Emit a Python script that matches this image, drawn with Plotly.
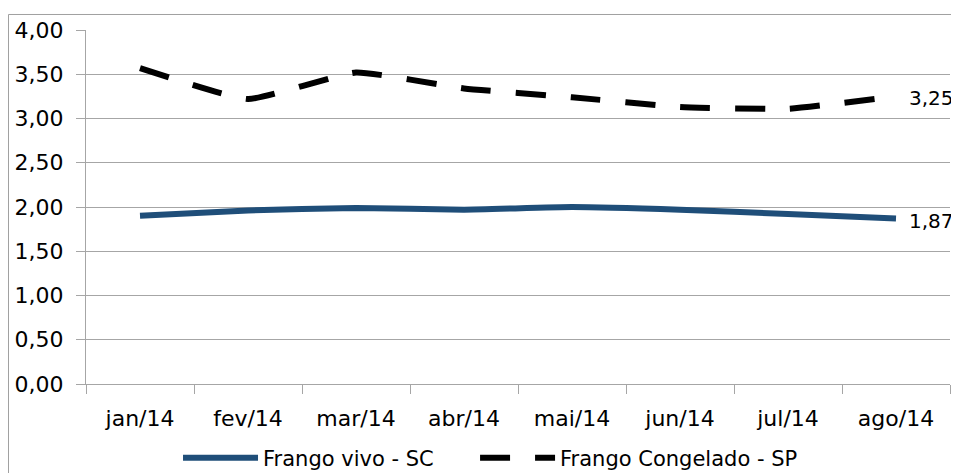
import plotly.graph_objects as go

months = ["jan/14", "fev/14", "mar/14", "abr/14", "mai/14", "jun/14", "jul/14", "ago/14"]
frango_vivo_sc = [1.90, 1.96, 1.99, 1.97, 2.00, 1.97, 1.92, 1.87]
frango_congelado_sp = [3.57, 3.22, 3.52, 3.34, 3.24, 3.13, 3.11, 3.25]
y_ticks = [0, 0.5, 1, 1.5, 2, 2.5, 3, 3.5, 4]

FONT = "DejaVu Sans"
GRID = "#a6a6a6"

fig = go.Figure()
fig.add_trace(go.Scatter(
    x=months, y=frango_vivo_sc, name="Frango vivo - SC", mode="lines",
    line=dict(color="#1f4e79", width=6, shape="spline", smoothing=0.4),
    legend="legend",
))
fig.add_trace(go.Scatter(
    x=months, y=frango_congelado_sp, name="Frango Congelado - SP", mode="lines",
    line=dict(color="#000000", width=6, shape="spline", smoothing=0.4, dash="30px,25px"),
    legend="legend2",
))

def fmt(v):
    return f"{v:.2f}".replace(".", ",")

for series in (frango_vivo_sc, frango_congelado_sp):
    fig.add_annotation(x=months[-1], y=series[-1], text=fmt(series[-1]),
                       showarrow=False, xanchor="left", yanchor="middle",
                       xshift=11, yshift=-2,
                       font=dict(family=FONT, size=20, color="#000000"))

# chart border
fig.add_shape(type="rect", xref="paper", yref="paper",
              x0=-0.0897, x1=1.2, y0=-0.4, y1=1.0438,
              line=dict(color="#a0a0a0", width=1), fillcolor="rgba(0,0,0,0)", layer="below")

legend_common = dict(orientation="h", y=-0.209, yanchor="middle", xanchor="left",
                     itemwidth=75, font=dict(family=FONT, size=21, color="#000000"),
                     bgcolor="rgba(0,0,0,0)")

fig.update_layout(
    width=951, height=465,
    margin=dict(l=78, r=9, t=22, b=89, autoexpand=False),
    paper_bgcolor="white", plot_bgcolor="white",
    separators=",.",
    font=dict(family=FONT, size=21, color="#000000"),
    showlegend=True,
    legend=dict(x=0.1065, **legend_common),
    legend2=dict(x=0.4503, **legend_common),
    xaxis=dict(type="category", range=[-0.5, 7.5], automargin=False,
               showline=True, linecolor=GRID, linewidth=1,
               ticks="outside", tickson="boundaries", ticklen=9, tickcolor=GRID,
               showgrid=False, ticklabelstandoff=15,
               tickfont=dict(family=FONT, size=22, color="#000000")),
    yaxis=dict(range=[0, 4], tickvals=y_ticks, tickformat=".2f", automargin=False,
               showline=True, linecolor=GRID, linewidth=1,
               ticks="outside", ticklen=9, tickcolor=GRID,
               showgrid=True, gridcolor=GRID, gridwidth=1, zeroline=False,
               ticklabelstandoff=8,
               tickfont=dict(family=FONT, size=22, color="#000000")),
)

fig.write_html("out.html")
